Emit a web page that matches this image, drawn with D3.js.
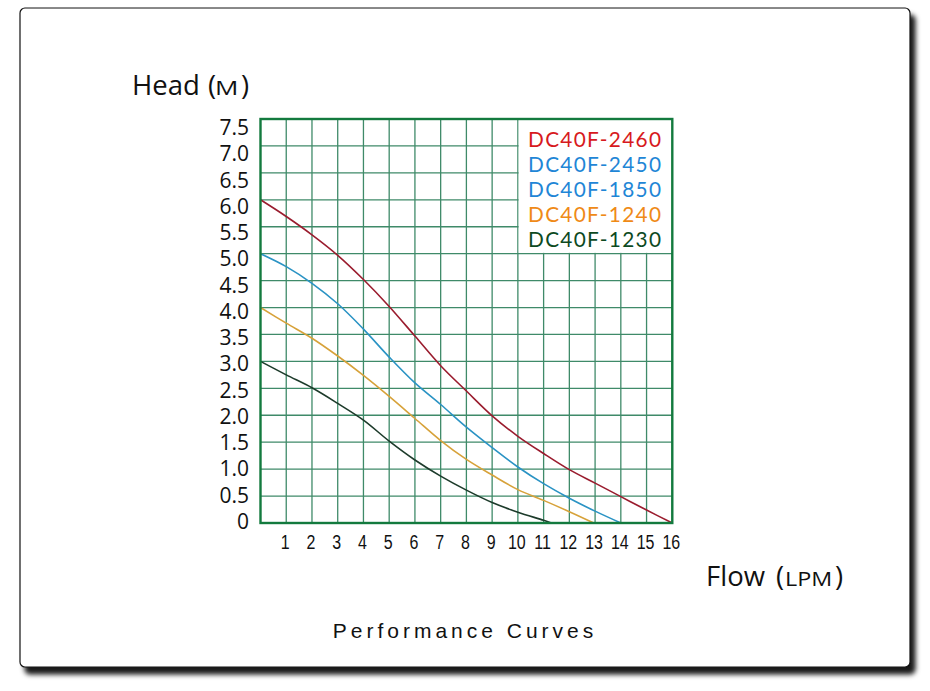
<!DOCTYPE html>
<html>
<head>
<meta charset="utf-8">
<script src="https://cdn.jsdelivr.net/npm/d3@7/dist/d3.min.js"></script>
<style>
  html, body { margin: 0; padding: 0; background: #ffffff; }
  svg { display: block; }
</style>
</head>
<body>
<svg id="chart" width="930" height="691"></svg>
<script>
// ---- data ----
const yTicks = [0, 0.5, 1.0, 1.5, 2.0, 2.5, 3.0, 3.5, 4.0, 4.5, 5.0, 5.5, 6.0, 6.5, 7.0, 7.5];
const yTickLabels = ["0", "0.5", "1.0", "1.5", "2.0", "2.5", "3.0", "3.5", "4.0", "4.5", "5.0", "5.5", "6.0", "6.5", "7.0", "7.5"];
const xTicks = [1, 2, 3, 4, 5, 6, 7, 8, 9, 10, 11, 12, 13, 14, 15, 16];

const flowA = [0, 1, 2, 3, 4, 5, 6, 7, 8, 9, 10, 11, 12, 13, 14, 15, 16];
const headA = [6.0, 5.69, 5.35, 4.97, 4.52, 4.02, 3.47, 2.92, 2.45, 1.99, 1.61, 1.29, 0.99, 0.74, 0.49, 0.24, 0];

const flowB = [0, 1, 2, 3, 4, 5, 6, 7, 8, 9, 10, 11, 12, 13, 14];
const headB = [5.0, 4.76, 4.45, 4.07, 3.6, 3.08, 2.6, 2.2, 1.78, 1.4, 1.04, 0.73, 0.46, 0.22, 0];

const flowC = [0, 1, 2, 3, 4, 5, 6, 7, 8, 9, 10, 11, 12, 12.95];
const headC = [4.0, 3.71, 3.43, 3.1, 2.74, 2.35, 1.94, 1.53, 1.18, 0.89, 0.62, 0.42, 0.21, 0];

const flowD = [0, 1, 2, 3, 4, 5, 6, 7, 8, 9, 10, 11, 11.3];
const headD = [3.0, 2.75, 2.51, 2.22, 1.91, 1.52, 1.17, 0.87, 0.61, 0.38, 0.2, 0.05, 0];

const legendNames = ["DC40F-2460", "DC40F-2450", "DC40F-1850", "DC40F-1240", "DC40F-1230"];
const legendColors = ["#d71920", "#1f86d6", "#1f86d6", "#ef8a17", "#0d4a1f"];

const curves = [
  { flow: flowA, head: headA, color: "#9a1c2e" },
  { flow: flowB, head: headB, color: "#2a93c4" },
  { flow: flowC, head: headC, color: "#d7a23a" },
  { flow: flowD, head: headD, color: "#1d3b2b" }
];

// ---- layout ----
const svg = d3.select("#chart");
const x = d3.scaleLinear().domain([0, 16]).range([260.5, 672.3]);
const y = d3.scaleLinear().domain([0, 7.5]).range([523, 119]);
const yLab = d3.scaleLinear().domain([0, 7.5]).range([529, 135]);

// frame with shadow
const defs = svg.append("defs");
const f = defs.append("filter").attr("id", "shadow")
  .attr("x", "-5%").attr("y", "-5%").attr("width", "112%").attr("height", "115%");
f.append("feDropShadow").attr("dx", 5).attr("dy", 7).attr("stdDeviation", 2.6)
  .attr("flood-color", "#000").attr("flood-opacity", 0.9);

svg.append("rect")
  .attr("x", 20).attr("y", 8).attr("width", 890).attr("height", 659)
  .attr("rx", 5).attr("ry", 5)
  .attr("fill", "#ffffff").attr("stroke", "#111").attr("stroke-width", 1.2)
  .attr("filter", "url(#shadow)");

const plot = svg.append("g");

// grid
const gridColor = "#3f8a69";
plot.append("g").selectAll("line").data(xTicks).join("line")
  .attr("x1", d => x(d)).attr("x2", d => x(d))
  .attr("y1", y(0)).attr("y2", y(7.5))
  .attr("stroke", gridColor).attr("stroke-width", 1.3);
plot.append("g").selectAll("line").data(yTicks.filter(d => d > 0)).join("line")
  .attr("x1", x(0)).attr("x2", x(16))
  .attr("y1", d => y(d)).attr("y2", d => y(d))
  .attr("stroke", gridColor).attr("stroke-width", 1.3);

// legend box (white) over grid
plot.append("rect")
  .attr("x", x(10) + 0.8).attr("y", y(7.5))
  .attr("width", x(16) - x(10) - 0.8).attr("height", y(5.0) - y(7.5) - 0.8)
  .attr("fill", "#ffffff");

// curves
const line = d3.line().curve(d3.curveCatmullRom.alpha(0.5))
  .x(d => x(d[0])).y(d => y(d[1]));
plot.append("g").selectAll("path").data(curves).join("path")
  .attr("d", c => line(c.flow.map((fl, i) => [fl, c.head[i]])))
  .attr("fill", "none").attr("stroke", c => c.color).attr("stroke-width", 1.6);

// border
plot.append("rect")
  .attr("x", x(0)).attr("y", y(7.5))
  .attr("width", x(16) - x(0)).attr("height", y(0) - y(7.5))
  .attr("fill", "none").attr("stroke", "#137a3e").attr("stroke-width", 2.4);

// legend text
svg.append("g").selectAll("text").data(legendNames).join("text")
  .attr("x", 528)
  .attr("y", (d, i) => 146.7 + i * 25)
  .attr("fill", (d, i) => legendColors[i])
  .attr("font-family", "Lato, 'Open Sans', sans-serif")
  .attr("font-size", 20.8)
  .attr("textLength", 133)
  .attr("lengthAdjust", "spacing")
  .text(d => d);

// y tick labels
svg.append("g").selectAll("text").data(yTicks).join("text")
  .attr("x", 249)
  .attr("y", d => yLab(d))
  .attr("text-anchor", "end")
  .attr("fill", "#111")
  .attr("font-family", "'Open Sans', 'Noto Sans', sans-serif")
  .attr("font-size", 21)
  .text((d, i) => yTickLabels[i]);

// x tick labels
svg.append("g").selectAll("text").data(xTicks).join("text")
  .attr("transform", d => `translate(${x(d) - 1},549) scale(0.82,1)`)
  .attr("text-anchor", "middle")
  .attr("fill", "#111")
  .attr("font-family", "'Liberation Sans Narrow', 'Liberation Sans', Arial, sans-serif")
  .attr("font-size", 19.5)
  .text(d => d);

// axis titles
const titleFont = "'Open Sans', 'Noto Sans', sans-serif";
const headT = svg.append("text").attr("y", 95)
  .attr("fill", "#111").attr("font-family", titleFont).attr("font-size", 27.5);
headT.append("tspan").attr("x", 132).text("Head");
headT.append("tspan").attr("x", 208).text("(");
headT.append("tspan").attr("x", 241).text(")");
svg.append("text").attr("transform", "translate(215,95) scale(1.3,1)")
  .attr("fill", "#111").attr("font-family", titleFont).attr("font-size", 20)
  .text("M");

const flowT = svg.append("text").attr("y", 586)
  .attr("fill", "#111").attr("font-family", titleFont).attr("font-size", 27.5);
flowT.append("tspan").attr("x", 706).text("Flow");
flowT.append("tspan").attr("x", 776).text("(");
flowT.append("tspan").attr("x", 835).text(")");
svg.append("text").attr("transform", "translate(785,586) scale(1.14,1)")
  .attr("fill", "#111").attr("font-family", titleFont).attr("font-size", 20.5)
  .text("LPM");

svg.append("text").attr("x", 465).attr("y", 638)
  .attr("text-anchor", "middle")
  .attr("fill", "#111")
  .attr("font-family", "'Liberation Sans', Arial, sans-serif")
  .attr("font-size", 21)
  .attr("letter-spacing", 4)
  .text("Performance Curves");
</script>
</body>
</html>
